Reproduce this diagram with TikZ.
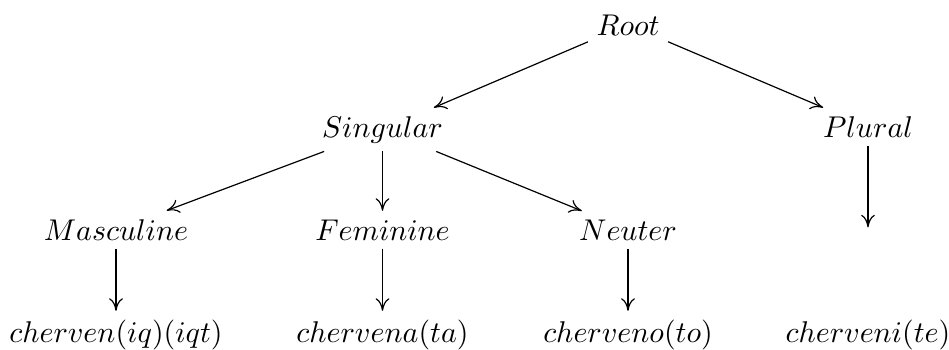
\documentclass[tikz,border=0pt]{standalone}
\usetikzlibrary{arrows.meta}
\begin{document}
\begin{tikzpicture}[x=0.33333pt,y=-0.33333pt,
  lbl/.style={anchor=base, inner xsep=2.67pt, inner ysep=2.67pt},
  arr/.style={-{Computer Modern Rightarrow[length=4.2pt,width=4.6pt]}, line width=0.4pt}]
\useasboundingbox (0,0) rectangle (949,349);
% row 1
\node[lbl] (root) at (628,35) {$Root$};
% row 2
\node[lbl] (sing) at (382.5,137) {$Singular$};
\node[lbl] (plur) at (868,137) {$Plural$};
% row 3
\node[lbl] (masc) at (116,240) {$Masculine$};
\node[lbl] (fem)  at (382.5,240) {$Feminine$};
\node[lbl] (neut) at (628,240) {$Neuter$};
\node[lbl, inner sep=4pt] (empt) at (868,240) {};
% row 4
\node[lbl] (cm) at (116,342) {$cherven(iq)(iqt)$};
\node[lbl] (cf) at (382.5,342) {$chervena(ta)$};
\node[lbl] (cn) at (628,342) {$cherveno(to)$};
\node[lbl] (cp) at (868,342) {$cherveni(te)$};
% arrows
\draw[arr] (root) -- (sing);
\draw[arr] (root) -- (plur);
\draw[arr] (sing) -- (masc);
\draw[arr] (sing) -- (fem);
\draw[arr] (sing) -- (neut);
\draw[arr] (plur) -- (empt);
\draw[arr] (masc) -- (cm);
\draw[arr] (fem) -- (cf);
\draw[arr] (neut) -- (cn);
\end{tikzpicture}
\end{document}
